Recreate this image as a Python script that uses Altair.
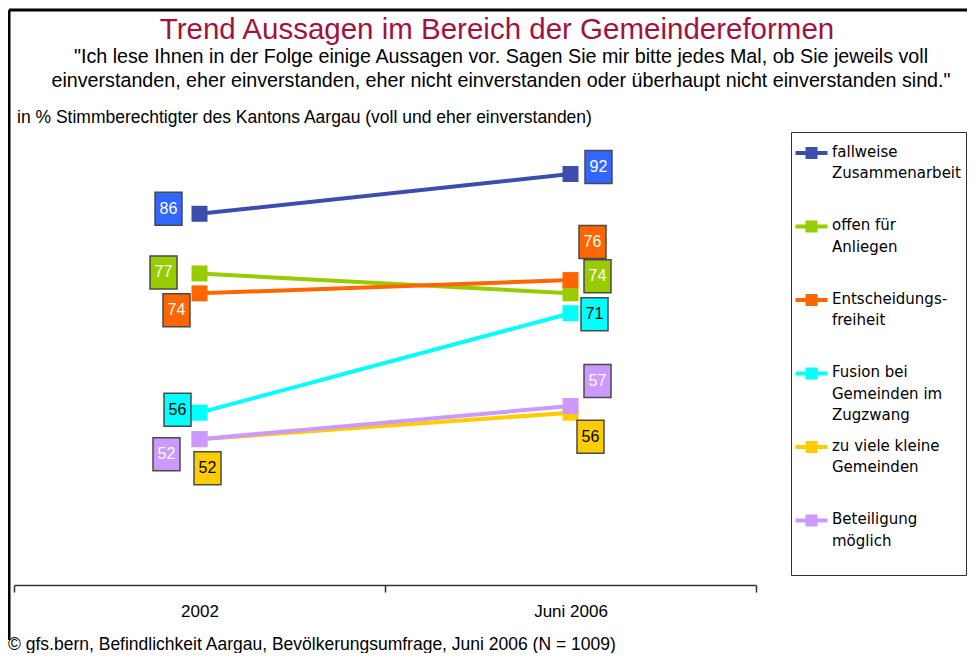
import altair as alt
import pandas as pd

# ---------------- data ----------------
years = ["2002", "Juni 2006"]
series = [
    "fallweise\nZusammenarbeit",
    "offen für\nAnliegen",
    "Entscheidungs-\nfreiheit",
    "Fusion bei\nGemeinden im\nZugzwang",
    "zu viele kleine\nGemeinden",
    "Beteiligung\nmöglich",
]
values_2002 = [86, 77, 74, 56, 52, 52]
values_2006 = [92, 74, 76, 71, 56, 57]

# ---------------- styles / layout ----------------
line_colors = ["#3D4DAD", "#99CC00", "#FF6600", "#00FFFF", "#FFCC00", "#CC99FF"]
box_colors = ["#3366FF", "#99CC00", "#FF6600", "#00FFFF", "#FFCC00", "#CC99FF"]
dark_text = [series[3], series[4]]

# pixel offsets of the value boxes relative to their point
label_dx_2002 = [-31, -36, -23, -22, 8, -33]
label_dy_2002 = [-5, -1, 17, -3, 29, 15]
label_dx_2006 = [28, 27, 22, 24, 20, 27]
label_dy_2006 = [-7, -17, -38, 1, 24, -25]

W, H = 742, 464
Y_DOMAIN = [30, 100]
half_band = W / len(years) / 2
px_per_unit = H / (Y_DOMAIN[1] - Y_DOMAIN[0])
FONT = "Liberation Sans"

rows = []
for i, s in enumerate(series):
    rows.append({"Aussage": s, "Jahr": years[0], "Wert": values_2002[i],
                 "dx": label_dx_2002[i], "dy": label_dy_2002[i]})
    rows.append({"Aussage": s, "Jahr": years[1], "Wert": values_2006[i],
                 "dx": label_dx_2006[i], "dy": label_dy_2006[i]})
df = pd.DataFrame(rows)

x = alt.X(
    "Jahr:N", sort=years,
    scale=alt.Scale(type="band", paddingInner=0, paddingOuter=0),
    axis=alt.Axis(title=None, tickBand="extent", labelAngle=0, labelFont=FONT,
                  labelFontSize=17, labelColor="black", labelPadding=11,
                  tickSize=7, tickColor="#333", tickWidth=1.5,
                  domainColor="#333", domainWidth=1.5, grid=False),
)
y_scale = alt.Scale(domain=Y_DOMAIN)
y = alt.Y("Wert:Q", scale=y_scale, axis=None)
y_lab = alt.Y("ly:Q", scale=y_scale, axis=None)
color_scale = alt.Scale(domain=series, range=line_colors)

base = alt.Chart(df)
lab_base = base.transform_calculate(
    ox=f"datum.dx + {half_band}",
    ly=f"datum.Wert - datum.dy / {px_per_unit}",
)

lines = base.mark_line(strokeWidth=4).encode(
    x=x, y=y,
    color=alt.Color("Aussage:N", sort=series, scale=color_scale, legend=None),
)

# legend symbol: a short line with a square on it (unit = 4 px)
LEG_PATH = "M-2,1.6H6V2.6H-2Z M0.5,0.6H3.5V3.6H0.5Z"
squares = base.mark_square(size=256, filled=True, opacity=1).encode(
    x=x, y=y,
    color=alt.Color(
        "Aussage:N", sort=series, scale=color_scale,
        legend=alt.Legend(
            title=None, orient="none", legendX=777, legendY=11,
            symbolType=LEG_PATH, symbolSize=64, symbolStrokeWidth=0,
            symbolOpacity=1,
            labelExpr="split(datum.label + (length(split(datum.label, '\\n')) < 3 ? '\\n ' : ''), '\\n')",
            labelFont="DejaVu Sans", labelFontSize=15, labelColor="black",
            labelBaseline="top", labelOffset=21, labelLimit=300,
            gridAlign="all", rowPadding=7.5, padding=5,
            fillColor="white", strokeColor="#333",
        ),
    ),
)

BOX_PATH = "M-0.818,-1H0.818V1H-0.818Z"
boxes = lab_base.mark_point(
    shape=BOX_PATH, size=1089, filled=True, opacity=1, stroke="#4A4A4A", strokeWidth=1.5
).encode(
    x=x, y=y_lab,
    xOffset=alt.XOffset("ox:Q", scale=None),
    fill=alt.Fill("Aussage:N", scale=alt.Scale(domain=series, range=box_colors), legend=None),
)

texts = lab_base.mark_text(
    font=FONT, fontSize=16, align="center", baseline="middle"
).encode(
    x=x, y=y_lab,
    xOffset=alt.XOffset("ox:Q", scale=None),
    text="Wert:Q",
    color=alt.condition(alt.FieldOneOfPredicate(field="Aussage", oneOf=dark_text),
                        alt.value("black"), alt.value("white")),
)

one = pd.DataFrame({"k": [0]})

def note(text, px, py, size, align="center", color="black", font=FONT):
    return alt.Chart(one).mark_text(
        text=text, font=font, fontSize=size, align=align, baseline="alphabetic", color=color
    ).encode(x=alt.value(px), y=alt.value(py))

title = note("Trend Aussagen im Bereich der Gemeindereformen", 483, -82, 29.5, color="#A3123F")
sub1 = note('"Ich lese Ihnen in der Folge einige Aussagen vor. Sagen Sie mir bitte jedes Mal, ob Sie jeweils voll',
            487, -58, 19.7)
sub2 = note('einverstanden, eher einverstanden, eher nicht einverstanden oder überhaupt nicht einverstanden sind."',
            487, -34, 19.7)
unit = note("in % Stimmberechtigter des Kantons Aargau (voll und eher einverstanden)", 3, 2, 17.5, align="left")
footer = note("© gfs.bern, Befindlichkeit Aargau, Bevölkerungsumfrage, Juni 2006 (N = 1009)",
              -6, 529, 17.5, align="left")

frame_top = alt.Chart(one).mark_rule(color="black", strokeWidth=3).encode(
    x=alt.value(-5), x2=alt.value(953), y=alt.value(-111))
frame_left = alt.Chart(one).mark_rule(color="black", strokeWidth=3).encode(
    x=alt.value(-5), y=alt.value(-111), y2=alt.value(519))

chart = alt.layer(
    frame_top, frame_left, title, sub1, sub2, unit, footer,
    lines, squares, boxes, texts,
).resolve_legend(color="independent").properties(
    width=W, height=H,
    autosize=alt.AutoSizeParams(type="none"),
    padding={"left": 6, "top": 113, "right": 211, "bottom": 68},
    background="white",
).configure(
    style={"guide-label": {"lineHeight": 21.5}}
).configure_view(stroke=None)

chart.save("out.html", embed_options={"renderer": "svg", "actions": False})
